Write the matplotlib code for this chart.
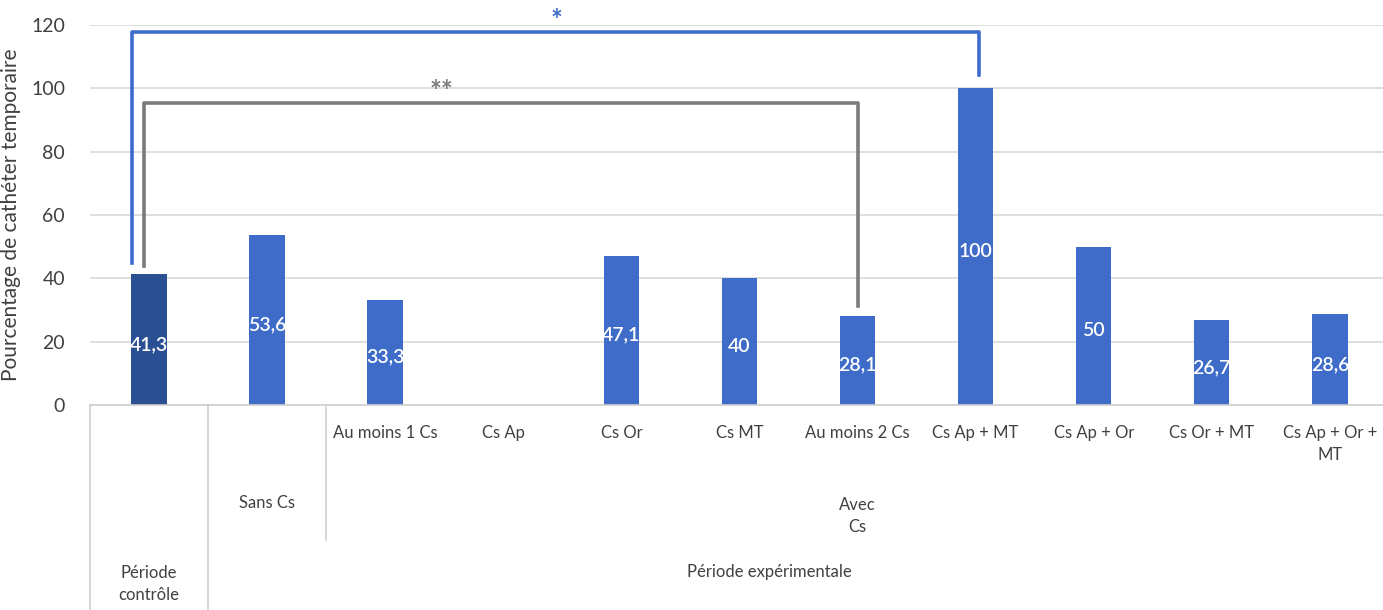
import matplotlib.pyplot as plt
from matplotlib.transforms import blended_transform_factory

plt.rcParams['font.family'] = ['Lato', 'DejaVu Sans']

categories = ["", "", "Au moins 1 Cs", "Cs Ap", "Cs Or", "Cs MT", "Au moins 2 Cs",
              "Cs Ap + MT", "Cs Ap + Or", "Cs Or + MT", "Cs Ap + Or +\nMT"]
values = [41.3, 53.6, 33.3, 0, 47.1, 40, 28.1, 100, 50, 26.7, 28.6]
value_labels = ["41,3", "53,6", "33,3", "", "47,1", "40", "28,1", "100", "50", "26,7", "28,6"]
yticks = [0, 20, 40, 60, 80, 100, 120]

W, H = 1383, 610
fig = plt.figure(figsize=(W / 100, H / 100), dpi=100)
ax = fig.add_axes([90 / W, (H - 405) / H, (W - 90) / W, 380 / H])

x = list(range(len(values)))
colors = ["#2B4F93"] + ["#3E6CC8"] * (len(values) - 1)
ax.bar(x, values, width=0.30, color=colors, zorder=2)

for xi, v, lab in zip(x, values, value_labels):
    if lab:
        ax.text(xi, v / 2 - 1.5, lab, color="white", ha="center", va="center",
                fontsize=14, fontweight="semibold", zorder=3)

ax.set_xlim(-0.5, 10.45)
ax.set_ylim(0, 120)
ax.set_yticks(yticks)
ax.set_yticklabels([str(t) for t in yticks], fontsize=14, color="#404040")
ax.set_xticks([])
ax.tick_params(axis="y", length=0, pad=18)
ax.grid(axis="y", color="#d9d9d9", linewidth=1.2, zorder=0)
for side in ["top", "right", "left"]:
    ax.spines[side].set_visible(False)
ax.spines["bottom"].set_color("#d0d0d0")
ax.spines["bottom"].set_linewidth(1.2)
ax.set_ylabel("Pourcentage de cathéter temporaire", fontsize=15, color="#404040", labelpad=7)

# significance brackets
ax.plot([-0.145, -0.145, 7.03, 7.03], [44.8, 117.8, 117.8, 104.2],
        color="#3D6DCC", linewidth=2.6, clip_on=False, zorder=4)
ax.text(3.45, 117.0, "*", color="#3D6DCC", ha="center", va="bottom", fontsize=20,
        fontweight="bold", clip_on=False)
ax.plot([-0.04, -0.04, 6.0, 6.0], [43.9, 95.4, 95.4, 31.2],
        color="#7b7b7b", linewidth=2.6, clip_on=False, zorder=4)
ax.text(2.48, 94.6, "**", color="#7b7b7b", ha="center", va="bottom", fontsize=20,
        fontweight="bold")

# multi-level category axis drawn under the plot
tr = blended_transform_factory(ax.transData, fig.transFigure)


def fy(py):
    return (H - py) / H


for xi, name in zip(x, categories):
    if name:
        ax.text(xi, fy(425), name, transform=tr, ha="center", va="top",
                fontsize=12, color="#404040", linespacing=1.5)

ax.text(1, fy(503), "Sans Cs", transform=tr, ha="center", va="center", fontsize=12, color="#404040")
ax.text(6, fy(516), "Avec\nCs", transform=tr, ha="center", va="center", fontsize=12,
        color="#404040", linespacing=1.5)
ax.text(0, fy(584), "Période\ncontrôle", transform=tr, ha="center", va="center", fontsize=12,
        color="#404040", linespacing=1.5)
ax.text(5.25, fy(572), "Période expérimentale", transform=tr, ha="center", va="center",
        fontsize=12, color="#404040")

for bx, bottom in [(-0.5, H), (0.5, H), (1.5, 540)]:
    ax.plot([bx, bx], [fy(405), fy(bottom)], transform=tr, color="#d0d0d0",
            linewidth=1.2, clip_on=False)

fig.savefig("out.png", dpi=100)
